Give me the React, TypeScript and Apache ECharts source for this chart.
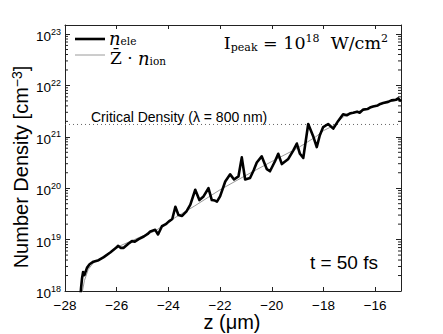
import React, { useEffect, useRef } from "react";
import * as echarts from "echarts";

// z positions (µm) and log10 densities
const zEle = [-27.42,-27.38,-27.34,-27.30,-27.25,-27.15,-27.05,-26.90,-26.70,-26.50,-26.25,-26.00,-25.95,-25.85,-25.73,-25.55,-25.41,-25.30,-25.15,-24.95,-24.80,-24.70,-24.51,-24.40,-24.25,-24.10,-23.99,-23.85,-23.73,-23.61,-23.47,-23.30,-23.15,-22.96,-22.80,-22.64,-22.45,-22.32,-22.20,-22.12,-22.00,-21.80,-21.61,-21.46,-21.29,-21.16,-21.03,-20.84,-20.70,-20.58,-20.39,-20.19,-20.07,-19.87,-19.75,-19.61,-19.36,-19.17,-19.03,-18.91,-18.78,-18.59,-18.39,-18.26,-18.14,-18.01,-17.82,-17.62,-17.43,-17.24,-17.10,-16.95,-16.85,-16.70,-16.60,-16.46,-16.30,-16.20,-16.08,-15.90,-15.80,-15.69,-15.50,-15.37,-15.20,-15.11,-15.00];
const logEle = [17.8,18.05,18.25,18.37,18.31,18.45,18.52,18.57,18.60,18.66,18.75,18.85,18.88,18.84,18.84,18.92,18.97,18.96,19.01,19.06,19.11,19.16,19.19,19.10,19.26,19.30,19.35,19.40,19.64,19.48,19.46,19.55,19.68,19.97,19.77,19.84,20.00,19.77,19.76,19.74,19.84,20.13,20.27,20.17,20.23,20.60,20.17,20.20,20.35,20.50,20.62,20.37,20.33,20.53,20.67,20.47,20.57,20.73,20.87,20.67,20.59,21.25,21.00,20.80,21.03,21.19,21.25,21.16,21.31,21.44,21.42,21.46,21.47,21.49,21.47,21.53,21.54,21.57,21.59,21.61,21.64,21.66,21.68,21.71,21.72,21.75,21.69];

const zIon = [-27.36,-27.25,-27.10,-26.90,-26.50,-26.00,-25.50,-25.00,-24.50,-24.00,-23.50,-23.00,-22.00,-21.00,-20.00,-19.00,-18.30,-18.00,-17.60,-17.20,-16.50,-16.00,-15.50,-15.00];
const logIon = [17.9,18.2,18.42,18.55,18.67,18.85,18.96,19.07,19.17,19.35,19.50,19.65,19.97,20.25,20.52,20.78,21.00,21.12,21.22,21.40,21.52,21.60,21.68,21.72];

const criticalDensity = 1.74e21;
const yMin = 1e18;
const yMax = 1.5e23; // the frame sits a little above the 10^23 tick
const yDecades = [18, 19, 20, 21, 22, 23];

export default function App() {
  const ref = useRef<HTMLDivElement>(null);
  useEffect(() => {
    const chart = echarts.init(ref.current!, null, { renderer: "svg" });
    const ele = zEle.map((z, i) => [z, Math.pow(10, logEle[i])]);
    const ion = zIon.map((z, i) => [z, Math.pow(10, logIon[i])]);
    const minor: number[] = [];
    for (let d = yDecades[0]; d < yDecades[yDecades.length - 1]; d++) {
      for (let m = 2; m <= 9; m++) minor.push(m * Math.pow(10, d));
    }
    const axisColor = "#222";
    const supLabel = (v: number) => {
      const e = Math.log10(v);
      if (Math.abs(e - Math.round(e)) > 1e-6) return "";
      return `{b|10}{s|${Math.round(e)}}`;
    };
    chart.setOption({
      animation: false,
      grid: { left: 65, right: 42, top: 25, bottom: 43, containLabel: false },
      xAxis: [
        {
          type: "value", min: -28, max: -15, interval: 2,
          axisLine: { lineStyle: { color: axisColor, width: 1 } },
          axisTick: { inside: true, length: 4, lineStyle: { color: axisColor } },
          axisLabel: {
            color: "#000", fontSize: 13.5, fontFamily: "Liberation Sans", margin: 7,
            formatter: (v: number) => (v === -15 ? "" : String(v).replace("-", "\u2212")),
            showMaxLabel: false,
          },
          splitLine: { show: false },
        },
        {
          type: "value", position: "top", min: -28, max: -15, interval: 2,
          axisLine: { lineStyle: { color: axisColor, width: 1 } },
          axisTick: { inside: true, length: 4, lineStyle: { color: axisColor } },
          axisLabel: { show: false }, splitLine: { show: false },
        },
      ],
      yAxis: [
        {
          type: "log", logBase: 10, min: yMin, max: yMax,
          axisLine: { show: true, lineStyle: { color: axisColor, width: 1 } },
          axisTick: { show: true, inside: true, length: 5, lineStyle: { color: axisColor } },
          axisLabel: {
            formatter: supLabel, margin: 4,
            rich: {
              b: { fontSize: 13.5, fontFamily: "Liberation Sans", color: "#000", padding: [5, 0, 0, 0] },
              s: { fontSize: 9, fontFamily: "Liberation Sans", color: "#000", padding: [0, 0, 5, 0] },
            },
          },
          splitLine: { show: false },
        },
        {
          type: "log", logBase: 10, min: yMin, max: yMax, position: "right",
          axisLine: { show: true, lineStyle: { color: axisColor, width: 1 } },
          axisTick: { show: true, inside: true, length: 5, lineStyle: { color: axisColor } },
          axisLabel: { show: false }, splitLine: { show: false },
        },
      ],
      series: [
        {
          type: "custom", xAxisIndex: 0, yAxisIndex: 0, data: minor.map((v) => [v]),
          silent: true,
          renderItem: (params: any, api: any) => {
            const v = api.value(0);
            const l = api.coord([-28, v]);
            const r = api.coord([-15, v]);
            const st = { stroke: axisColor, lineWidth: 1 };
            return {
              type: "group",
              children: [
                { type: "line", shape: { x1: l[0], y1: l[1], x2: l[0] + 3, y2: l[1] }, style: st },
                { type: "line", shape: { x1: r[0], y1: r[1], x2: r[0] - 3, y2: r[1] }, style: st },
              ],
            };
          },
        },
        {
          type: "line", name: "crit", data: [[-28, criticalDensity], [-15, criticalDensity]],
          showSymbol: false, lineStyle: { color: "#666", width: 1, type: [1, 3] }, silent: true,
        },
        {
          type: "line", name: "ion", data: ion, showSymbol: false, clip: true,
          lineStyle: { color: "#9a9a9a", width: 1 }, z: 3,
        },
        {
          type: "line", name: "ele", data: ele, showSymbol: false, clip: true,
          lineStyle: { color: "#000", width: 2.6, join: "round" }, z: 4,
        },
      ],
      graphic: [
        { type: "line", shape: { x1: 75, y1: 39, x2: 105, y2: 39 }, style: { stroke: "#000", lineWidth: 2.6 } },
        { type: "line", shape: { x1: 75, y1: 55, x2: 105, y2: 55 }, style: { stroke: "#9a9a9a", lineWidth: 1 } },
        {
          type: "text", x: 109, y: 38,
          style: {
            text: "{i|n}{sub|ele}", textVerticalAlign: "middle",
            rich: {
              i: { fontSize: 18, fontFamily: "DejaVu Serif", fontStyle: "italic", fill: "#000" },
              sub: { fontSize: 10.5, fontFamily: "DejaVu Serif", fill: "#000", padding: [6, 0, 0, 0] },
            },
          },
        },
        {
          type: "text", x: 110, y: 58,
          style: {
            text: "{r|Z\u0304 \u00b7 }{i|n}{sub|ion}", textVerticalAlign: "middle",
            rich: {
              r: { fontSize: 17, fontFamily: "DejaVu Serif", fill: "#000" },
              i: { fontSize: 18, fontFamily: "DejaVu Serif", fontStyle: "italic", fill: "#000" },
              sub: { fontSize: 10.5, fontFamily: "DejaVu Serif", fill: "#000", padding: [6, 0, 0, 0] },
            },
          },
        },
        {
          type: "text", x: 388, y: 43,
          style: {
            text: "{r|I}{sub|peak}{r| = 10}{sup|18}{r|  W/cm}{sup|2}", textAlign: "right", textVerticalAlign: "middle",
            rich: {
              r: { fontSize: 17.5, fontFamily: "DejaVu Serif", fill: "#000" },
              sub: { fontSize: 11, fontFamily: "DejaVu Serif", fill: "#000", padding: [8, 0, 0, 0] },
              sup: { fontSize: 11, fontFamily: "DejaVu Serif", fill: "#000", padding: [0, 0, 9, 0] },
            },
          },
        },
        {
          type: "text", x: 91, y: 117,
          style: { text: "Critical Density (\u03bb = 800 nm)", fontSize: 14, fontFamily: "Liberation Sans", fill: "#000", textVerticalAlign: "middle" },
        },
        {
          type: "text", x: 378, y: 262,
          style: { text: "t = 50 fs", fontSize: 19, fontFamily: "Liberation Sans", fill: "#000", textAlign: "right", textVerticalAlign: "middle" },
        },
        {
          type: "text", x: 232, y: 322,
          style: { text: "z (\u03bcm)", fontSize: 20, fontFamily: "Liberation Sans", fill: "#000", textAlign: "center", textVerticalAlign: "middle" },
        },
        {
          type: "text", x: 21, y: 167, rotation: Math.PI / 2,
          style: {
            text: "{r|Number Density [cm}{sup|\u22123}{r|]}", textAlign: "center", textVerticalAlign: "middle",
            rich: {
              r: { fontSize: 20, fontFamily: "Liberation Sans", fill: "#000" },
              sup: { fontSize: 14, fontFamily: "Liberation Sans", fill: "#000", padding: [0, 0, 9, 0] },
            },
          },
        },
      ],
    });
    return () => chart.dispose();
  }, []);
  return <div ref={ref} style={{ position: "fixed", left: 0, top: 0, width: 443, height: 334, background: "#fff" }} />;
}
